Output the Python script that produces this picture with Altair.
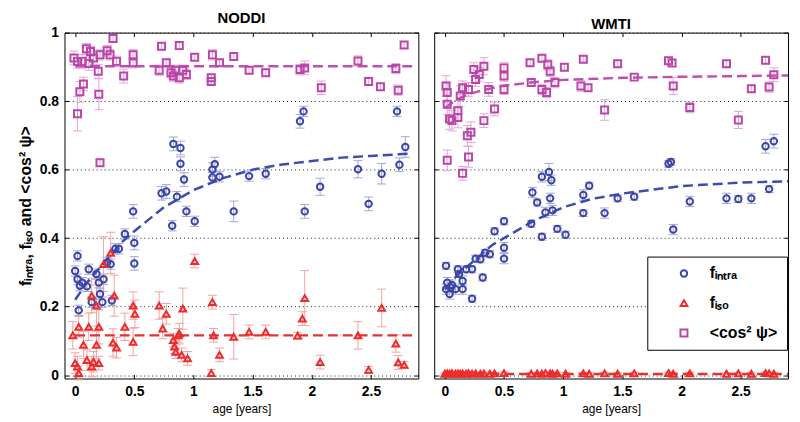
import altair as alt
import pandas as pd

# ---------------- NODDI panel data ----------------
noddi_cos_age = [-0.01, 0.02, 0.02, 0.04, 0.06, 0.07, 0.095, 0.115, 0.13, 0.155, 0.195, 0.20, 0.21, 0.21, 0.27, 0.295,
                 0.32, 0.35, 0.41, 0.49, 0.49, 0.71, 0.73, 0.77, 0.81, 0.83, 0.85, 0.88, 0.88, 0.91, 0.94, 1.01,
                 1.15, 1.15, 1.16, 1.22, 1.34, 1.47, 1.61, 1.90, 1.94, 2.08, 2.39, 2.48, 2.58, 2.71, 2.73, 2.78]
noddi_cos_val = [0.926, 0.763, 0.916, 0.827, 0.916, 0.85, 0.953, 0.91, 0.945, 0.926, 0.887, 0.82, 0.62, 0.935, 0.947, 0.935,
                 0.983, 0.916, 0.873, 0.935, 0.912, 0.89, 0.96, 0.912, 0.883, 0.873, 0.89, 0.962, 0.868, 0.89, 0.878, 0.928,
                 0.868, 0.857, 0.935, 0.912, 0.93, 0.89, 0.883, 0.892, 0.897, 0.839, 0.917, 0.857, 0.842, 0.895, 0.832, 0.964]
noddi_cos_err = [0.02, 0.05, 0.02, 0.03, 0.02, 0.02, 0.015, 0.02, 0.015, 0.02, 0.02, 0.045, 0.01, 0.015, 0.015, 0.015,
                 0.01, 0.015, 0.02, 0.015, 0.015, 0.015, 0.01, 0.01, 0.015, 0.015, 0.015, 0.01, 0.015, 0.015, 0.015, 0.01,
                 0.01, 0.01, 0.015, 0.01, 0.01, 0.01, 0.01, 0.015, 0.02, 0.02, 0.015, 0.01, 0.01, 0.015, 0.015, 0.01]

noddi_intra_age = [0.0, 0.02, 0.02, 0.03, 0.04, 0.06, 0.10, 0.115, 0.14, 0.18, 0.20, 0.21, 0.23, 0.24, 0.27, 0.30, 0.31,
                   0.34, 0.37, 0.42, 0.49, 0.50, 0.50, 0.73, 0.77, 0.82, 0.83, 0.86, 0.89, 0.89, 0.92, 0.94, 1.01,
                   1.16, 1.16, 1.18, 1.22, 1.34, 1.47, 1.61, 1.90, 1.93, 1.94, 2.07, 2.39, 2.48, 2.59, 2.72, 2.74, 2.79]
noddi_intra_val = [0.304, 0.348, 0.28, 0.189, 0.261, 0.27, 0.259, 0.309, 0.213, 0.295, 0.27, 0.237, 0.213, 0.28, 0.329,
                   0.324, 0.218, 0.369, 0.369, 0.412, 0.478, 0.386, 0.326, 0.531, 0.536, 0.436, 0.675, 0.521, 0.663,
                   0.617, 0.571, 0.478, 0.449, 0.60, 0.577, 0.616, 0.579, 0.478, 0.581, 0.588, 0.741, 0.77, 0.478,
                   0.55, 0.601, 0.50, 0.588, 0.77, 0.614, 0.666]
noddi_intra_err = [0.015, 0.015, 0.015, 0.015, 0.015, 0.015, 0.015, 0.015, 0.015, 0.015, 0.015, 0.015, 0.015, 0.015,
                   0.015, 0.015, 0.015, 0.015, 0.015, 0.015, 0.02, 0.02, 0.02, 0.02, 0.02, 0.015, 0.02, 0.015, 0.02,
                   0.02, 0.02, 0.015, 0.015, 0.02, 0.015, 0.02, 0.015, 0.03, 0.015, 0.015, 0.02, 0.015, 0.02, 0.025,
                   0.025, 0.02, 0.03, 0.015, 0.02, 0.03]

noddi_iso_age = [-0.02, 0.0, 0.02, 0.03, 0.03, 0.07, 0.10, 0.115, 0.14, 0.14, 0.155, 0.18, 0.18, 0.20, 0.20, 0.24, 0.30,
                 0.32, 0.33, 0.35, 0.42, 0.49, 0.505, 0.49, 0.71, 0.74, 0.77, 0.83, 0.84, 0.85, 0.87, 0.88, 0.90,
                 0.91, 0.95, 1.01, 1.15, 1.16, 1.17, 1.22, 1.34, 1.47, 1.61, 1.88, 1.92, 1.94, 2.07, 2.39, 2.48,
                 2.59, 2.71, 2.73, 2.78]
noddi_iso_val = [0.116, 0.035, 0.025, 0.141, 0.006, 0.088, 0.044, 0.141, 0.232, 0.025, 0.039, 0.088, 0.203, 0.141, 0.035,
                 0.324, 0.357, 0.095, 0.232, 0.08, 0.141, 0.203, 0.179, 0.097, 0.203, 0.136, 0.179, 0.102, 0.083,
                 0.068, 0.116, 0.121, 0.059, 0.194, 0.049, 0.333, 0.006, 0.213, 0.116, 0.059, 0.112, 0.126, 0.126,
                 0.115, 0.165, 0.225, 0.038, 0.116, 0.015, 0.196, 0.092, 0.037, 0.03]
noddi_iso_err = [0.04, 0.03, 0.03, 0.03, 0.02, 0.04, 0.03, 0.04, 0.05, 0.03, 0.03, 0.04, 0.06, 0.05, 0.02, 0.08, 0.06,
                 0.04, 0.06, 0.03, 0.04, 0.04, 0.04, 0.04, 0.04, 0.03, 0.03, 0.02, 0.02, 0.02, 0.02, 0.03, 0.02,
                 0.06, 0.02, 0.02, 0.01, 0.02, 0.02, 0.02, 0.065, 0.02, 0.02, 0.01, 0.02, 0.08, 0.02, 0.04, 0.01,
                 0.055, 0.025, 0.02, 0.01]

noddi_fit_intra_age = [0.0, 0.1, 0.2, 0.3, 0.4, 0.5, 0.75, 1.0, 1.25, 1.5, 1.75, 2.0, 2.25, 2.5, 2.85]
noddi_fit_intra_val = [0.22, 0.27, 0.31, 0.35, 0.39, 0.42, 0.49, 0.54, 0.575, 0.60, 0.615, 0.625, 0.635, 0.64, 0.647]
noddi_fit_iso_age = [0.0, 2.85]
noddi_fit_iso_val = [0.116, 0.116]
noddi_fit_cos_age = [0.0, 2.85]
noddi_fit_cos_val = [0.902, 0.902]

# ---------------- WMTI panel data ----------------
wmti_cos_age = [0.01, 0.02, 0.02, 0.02, 0.04, 0.06, 0.11, 0.11, 0.13, 0.15, 0.15, 0.19, 0.20, 0.20, 0.22, 0.245, 0.26,
                0.29, 0.33, 0.33, 0.37, 0.42, 0.50, 0.50, 0.50, 0.72, 0.73, 0.82, 0.82, 0.86, 0.87, 0.89, 0.93,
                1.01, 1.15, 1.17, 1.21, 1.35, 1.46, 1.60, 1.89, 1.92, 1.93, 2.07, 2.38, 2.48, 2.59, 2.71, 2.74, 2.78]
wmti_cos_val = [0.844, 0.825, 0.791, 0.627, 0.748, 0.743, 0.752, 0.772, 0.815, 0.839, 0.589, 0.699, 0.834, 0.637, 0.709,
                0.892, 0.863, 0.878, 0.902, 0.743, 0.834, 0.777, 0.897, 0.873, 0.834, 0.912, 0.854, 0.925, 0.834,
                0.825, 0.906, 0.887, 0.854, 0.899, 0.844, 0.922, 0.839, 0.774, 0.909, 0.87, 0.918, 0.911, 0.844,
                0.781, 0.909, 0.745, 0.836, 0.919, 0.841, 0.877]
wmti_cos_err = [0.03, 0.03, 0.03, 0.03, 0.03, 0.03, 0.03, 0.03, 0.03, 0.02, 0.02, 0.03, 0.02, 0.03, 0.03, 0.02, 0.02,
                0.02, 0.025, 0.02, 0.02, 0.02, 0.015, 0.015, 0.015, 0.01, 0.01, 0.01, 0.015, 0.015, 0.015, 0.015,
                0.015, 0.01, 0.015, 0.01, 0.01, 0.03, 0.01, 0.01, 0.01, 0.01, 0.025, 0.015, 0.01, 0.025, 0.01,
                0.01, 0.015, 0.02]

wmti_intra_age = [0.01, 0.01, 0.02, 0.04, 0.05, 0.06, 0.09, 0.11, 0.12, 0.15, 0.15, 0.18, 0.23, 0.23, 0.26, 0.30, 0.32,
                  0.34, 0.38, 0.42, 0.50, 0.50, 0.50, 0.73, 0.74, 0.78, 0.82, 0.82, 0.85, 0.88, 0.89, 0.90, 0.91,
                  0.95, 1.02, 1.17, 1.17, 1.22, 1.35, 1.46, 1.60, 1.89, 1.91, 1.93, 2.07, 2.38, 2.48, 2.59, 2.71,
                  2.74, 2.78]
wmti_intra_val = [0.319, 0.251, 0.27, 0.237, 0.256, 0.263, 0.251, 0.309, 0.295, 0.275, 0.251, 0.309, 0.309, 0.223, 0.34,
                  0.338, 0.285, 0.357, 0.353, 0.42, 0.449, 0.372, 0.34, 0.442, 0.533, 0.504, 0.579, 0.404, 0.475,
                  0.593, 0.516, 0.569, 0.481, 0.427, 0.41, 0.526, 0.473, 0.553, 0.473, 0.516, 0.521, 0.617, 0.622,
                  0.425, 0.507, 0.516, 0.514, 0.516, 0.668, 0.543, 0.683]
wmti_intra_err = [0.01, 0.015, 0.015, 0.015, 0.015, 0.015, 0.015, 0.01, 0.01, 0.015, 0.015, 0.01, 0.01, 0.01, 0.01, 0.01,
                  0.01, 0.01, 0.01, 0.01, 0.01, 0.015, 0.015, 0.01, 0.015, 0.01, 0.015, 0.01, 0.015, 0.025, 0.015,
                  0.015, 0.015, 0.01, 0.01, 0.015, 0.01, 0.01, 0.015, 0.01, 0.01, 0.01, 0.01, 0.015, 0.015, 0.015,
                  0.01, 0.015, 0.02, 0.01, 0.02]

wmti_iso_age = [0.0, 0.02, 0.04, 0.06, 0.09, 0.11, 0.13, 0.15, 0.18, 0.20, 0.23, 0.26, 0.30, 0.33, 0.38, 0.42, 0.50,
                0.73, 0.78, 0.82, 0.85, 0.89, 0.91, 0.95, 1.02, 1.17, 1.22, 1.35, 1.46, 1.60, 1.89, 1.93, 2.07,
                2.38, 2.48, 2.59, 2.71, 2.74, 2.78]
wmti_iso_val = [0.004, 0.005, 0.004, 0.006, 0.004, 0.005, 0.004, 0.005, 0.004, 0.006, 0.004, 0.005, 0.004, 0.005, 0.004,
                0.005, 0.006, 0.004, 0.005, 0.004, 0.006, 0.005, 0.004, 0.005, 0.004, 0.005, 0.004, 0.005, 0.004,
                0.005, 0.006, 0.004, 0.005, 0.004, 0.005, 0.004, 0.006, 0.005, 0.004]
wmti_iso_err = [0.003] * len(wmti_iso_age)

wmti_fit_intra_age = [0.0, 0.1, 0.2, 0.3, 0.4, 0.5, 0.75, 1.0, 1.25, 1.5, 2.0, 2.5, 2.9]
wmti_fit_intra_val = [0.25, 0.29, 0.32, 0.35, 0.38, 0.40, 0.45, 0.49, 0.515, 0.53, 0.552, 0.562, 0.566]
wmti_fit_iso_age = [0.0, 2.9]
wmti_fit_iso_val = [0.003, 0.003]
wmti_fit_cos_age = [0.0, 0.1, 0.2, 0.3, 0.4, 0.5, 0.75, 1.0, 1.5, 2.0, 2.5, 2.9]
wmti_fit_cos_val = [0.78, 0.805, 0.82, 0.83, 0.838, 0.845, 0.855, 0.862, 0.868, 0.871, 0.873, 0.875]

# ---------------- labels & style ----------------
S_INTRA = "f\u1d62\u2099\u209c\u1d63\u2090"
S_ISO = "f\u1d62\u209b\u2092"
S_COS = "<cos\u00b2 \u03c8>"
series_names = [S_INTRA, S_ISO, S_COS]
point_colors = ["#3a45a6", "#ee2b2b", "#bb45aa"]
err_colors = ["#a3a6d6", "#f4a3a3", "#e2a6da"]
shapes = ["circle", "triangle-up", "square"]
sizes = [42, 50, 70]

FONT = "Liberation Sans"
X_DOMAIN = [-0.09, 2.9]
Y_DOMAIN = [-0.01, 1.0]
W, H = 357, 349


def points_frame(parts):
    rows = []
    for name, ecol, (ages, vals, errs) in parts:
        for a, v, e in zip(ages, vals, errs):
            rows.append({"age": a, "val": v, "lo": v - e, "hi": v + e, "series": name, "ec": ecol})
    return pd.DataFrame(rows)


def fits_frame(parts):
    rows = []
    for name, col, (ages, vals) in parts:
        for a, v in zip(ages, vals):
            rows.append({"age": a, "val": v, "series": name, "lc": col})
    return pd.DataFrame(rows)


def panel(title, pts, fits, show_y, show_legend):
    xs = alt.Scale(domain=X_DOMAIN, nice=False, zero=False)
    ys = alt.Scale(domain=Y_DOMAIN, nice=False, zero=False)
    xax = alt.Axis(values=[0, 0.5, 1, 1.5, 2, 2.5], format="~g", title="age [years]", grid=False,
                   tickSize=4, offset=-4, labelFontSize=14, labelFontWeight="bold", labelPadding=6,
                   titleFontSize=12, titleFontWeight="normal", titlePadding=5)
    yax = alt.Axis(values=[0, 0.2, 0.4, 0.6, 0.8, 1.0], format="~g",
                   title=f"{S_INTRA}, {S_ISO} and {S_COS}" if show_y else None,
                   labels=show_y, grid=True, gridDash=[1, 3], gridColor="#222", gridWidth=1,
                   tickSize=4, offset=-4, labelFontSize=14, labelFontWeight="bold", labelPadding=6,
                   titleFontSize=16, titleFontWeight="bold", titlePadding=6)
    X = alt.X("age:Q", scale=xs, axis=xax)
    Y = alt.Y("val:Q", scale=ys, axis=yax)
    base = alt.Chart(pts)
    rules = base.mark_rule(strokeWidth=1).encode(
        x=X, y=alt.Y("lo:Q", scale=ys), y2="hi:Q", stroke=alt.Stroke("ec:N", scale=None))
    cap_lo = base.mark_tick(orient="horizontal", size=9, thickness=1, opacity=1).encode(
        x=X, y=alt.Y("lo:Q", scale=ys), fill=alt.Fill("ec:N", scale=None))
    cap_hi = base.mark_tick(orient="horizontal", size=9, thickness=1, opacity=1).encode(
        x=X, y=alt.Y("hi:Q", scale=ys), fill=alt.Fill("ec:N", scale=None))
    lines = alt.Chart(fits).mark_line(strokeWidth=2.5, strokeDash=[10, 5], clip=True).encode(
        x=X, y=Y, detail="series:N", stroke=alt.Stroke("lc:N", scale=None))
    if show_legend:
        leg = alt.Legend(title=None, orient="none", legendX=215, legendY=226,
                         strokeColor="black", fillColor="white", padding=9,
                         labelFont=FONT, labelFontSize=16, labelFontWeight="bold", labelColor="black",
                         symbolStrokeWidth=2, symbolSize=55, rowPadding=14, labelOffset=18,
                         symbolOffset=20, offset=0, labelLimit=200)
    else:
        leg = None
    pts_layer = base.mark_point(filled=False, strokeWidth=2, opacity=1).encode(
        x=X, y=Y,
        color=alt.Color("series:N", scale=alt.Scale(domain=series_names, range=point_colors), legend=leg),
        shape=alt.Shape("series:N", scale=alt.Scale(domain=series_names, range=shapes), legend=leg),
        size=alt.Size("series:N", scale=alt.Scale(domain=series_names, range=sizes), legend=None),
    )
    main = alt.layer(rules, cap_lo, cap_hi, lines, pts_layer)
    ax2 = alt.Chart(fits).mark_point(opacity=0).encode(
        x=alt.X("age:Q", scale=xs, axis=alt.Axis(orient="top", values=[0, 0.5, 1, 1.5, 2, 2.5], labels=False,
                                                 title=None, grid=False, tickSize=4, offset=-4)),
        y=alt.Y("val:Q", scale=ys, axis=alt.Axis(orient="right", values=[0, 0.2, 0.4, 0.6, 0.8, 1.0],
                                                 labels=False, title=None, grid=False, tickSize=4, offset=-4)),
    )
    return alt.layer(main, ax2).resolve_axis(x="independent", y="independent").properties(
        width=W, height=H,
        title=alt.TitleParams(title, fontSize=15, fontWeight="bold", font=FONT, offset=0, color="black"))


noddi_pts = points_frame([
    (S_INTRA, err_colors[0], (noddi_intra_age, noddi_intra_val, noddi_intra_err)),
    (S_ISO, err_colors[1], (noddi_iso_age, noddi_iso_val, noddi_iso_err)),
    (S_COS, err_colors[2], (noddi_cos_age, noddi_cos_val, noddi_cos_err)),
])
noddi_fits = fits_frame([
    (S_INTRA, "#3a4db0", (noddi_fit_intra_age, noddi_fit_intra_val)),
    (S_ISO, "#e83030", (noddi_fit_iso_age, noddi_fit_iso_val)),
    (S_COS, "#c050b0", (noddi_fit_cos_age, noddi_fit_cos_val)),
])
wmti_pts = points_frame([
    (S_INTRA, err_colors[0], (wmti_intra_age, wmti_intra_val, wmti_intra_err)),
    (S_ISO, err_colors[1], (wmti_iso_age, wmti_iso_val, wmti_iso_err)),
    (S_COS, err_colors[2], (wmti_cos_age, wmti_cos_val, wmti_cos_err)),
])
wmti_fits = fits_frame([
    (S_INTRA, "#3a4db0", (wmti_fit_intra_age, wmti_fit_intra_val)),
    (S_ISO, "#e83030", (wmti_fit_iso_age, wmti_fit_iso_val)),
    (S_COS, "#c050b0", (wmti_fit_cos_age, wmti_fit_cos_val)),
])

left = panel("NODDI", noddi_pts, noddi_fits, True, False)
right = panel("WMTI", wmti_pts, wmti_fits, False, True)

chart = alt.hconcat(left, right, spacing=14).resolve_scale(
    color="independent", shape="independent", size="independent"
).properties(
    padding={"left": 9, "top": 0, "right": 0, "bottom": 0}
).configure_view(
    stroke="black", strokeWidth=1
).configure_axis(
    labelFont=FONT, titleFont=FONT, labelColor="black", titleColor="black",
    domain=False, tickColor="black"
)

chart.save("out.html", embed_options={"renderer": "svg", "actions": False})
